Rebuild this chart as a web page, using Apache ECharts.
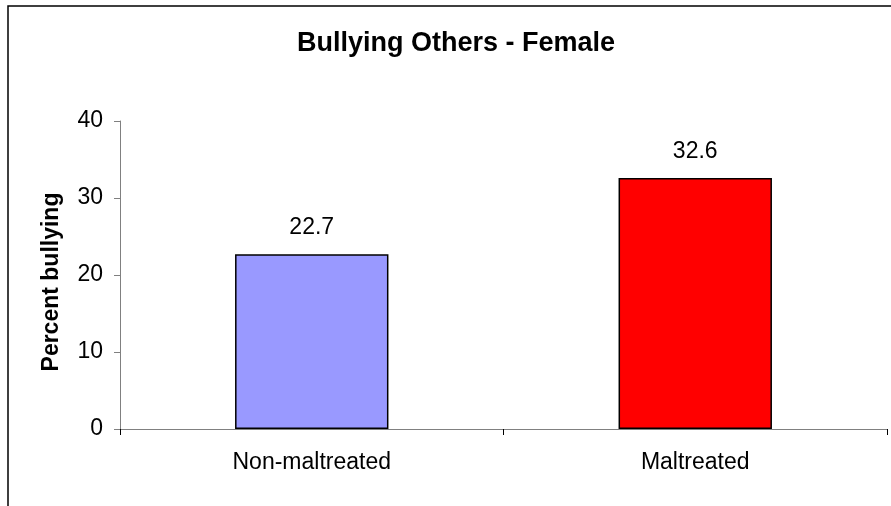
<!DOCTYPE html>
<html><head><meta charset="utf-8">
<script src="https://cdn.jsdelivr.net/npm/echarts@6/dist/echarts.min.js"></script>
<style>html,body{margin:0;padding:0;background:#fff}#c{width:891px;height:506px}</style>
</head><body><div id="c"></div>
<script>
const categories = ["Non-maltreated", "Maltreated"];
const values = [22.7, 32.6];
const barColors = ["#9999FF", "#FF0000"];
const titleText = "Bullying Others - Female";
const yAxisName = "Percent bullying";

const chart = echarts.init(document.getElementById('c'), null, {renderer: 'canvas'});
chart.setOption({
  animation: false,
  backgroundColor: '#fff',
  graphic: [{type: 'rect', shape: {x: 8, y: 6, width: 900, height: 520}, style: {fill: 'none', stroke: '#000', lineWidth: 1.5}, silent: true}],
  title: {text: titleText, left: 451, textAlign: 'center', top: 25,
    textStyle: {fontFamily: 'Liberation Sans, Arial', fontWeight: 'bold', fontSize: 27, color: '#000'}},
  grid: {left: 120, right: 4, top: 121, bottom: 77},
  xAxis: {type: 'category', data: categories,
    axisLine: {lineStyle: {color: '#808080', width: 1}},
    axisTick: {show: true, inside: false, length: 6, alignWithLabel: false, lineStyle: {color: '#000'}},
    axisLabel: {margin: 22, fontFamily: 'Liberation Sans, Arial', fontSize: 23, color: '#000'}},
  yAxis: {type: 'value', min: 0, max: 40, interval: 10,
    name: yAxisName, nameLocation: 'middle', nameGap: 57,
    nameTextStyle: {fontFamily: 'Liberation Sans, Arial', fontWeight: 'bold', fontSize: 23, color: '#000', padding: [0, 14, 0, 0]},
    axisLine: {show: true, lineStyle: {color: '#808080', width: 1}},
    axisTick: {show: true, length: 6, lineStyle: {color: '#808080'}},
    splitLine: {show: false},
    axisLabel: {margin: 17, fontFamily: 'Liberation Sans, Arial', fontSize: 23, color: '#000'}},
  series: [{type: 'bar', barWidth: '40%',
    data: values.map((v, i) => ({value: v, itemStyle: {color: barColors[i]}})),
    itemStyle: {borderColor: '#000', borderWidth: 1.5},
    label: {show: true, position: 'top', distance: 15, fontFamily: 'Liberation Sans, Arial', fontSize: 23, color: '#000',
      formatter: p => p.value.toFixed(1)}}]
});
</script></body></html>
